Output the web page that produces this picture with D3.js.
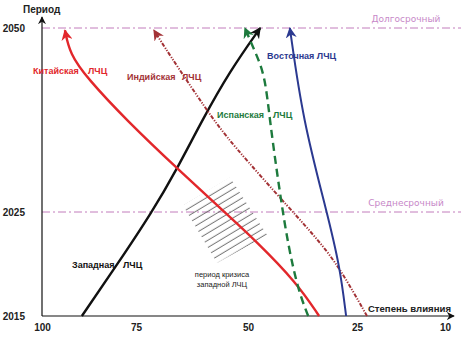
<!DOCTYPE html>
<html>
<head>
<meta charset="utf-8">
<script src="https://cdn.jsdelivr.net/npm/d3@7"></script>
<style>
  body { margin: 0; background: #fff; }
  svg { display: block; font-family: 'Liberation Sans', Arial, sans-serif; }
</style>
</head>
<body>
<div id="chart"></div>
<script>
// influence degree (x) vs period (y)
const chinaLine = [
  {value: 33.7, year: 2015},
  {value: 38.8, year: 2018.2},
  {value: 48.4, year: 2022.3},
  {value: 54.0, year: 2024.5},
  {value: 65.8, year: 2030.9},
  {value: 77.4, year: 2037.4},
  {value: 88.0, year: 2043.2},
  {value: 92.6, year: 2046.5},
  {value: 93.9, year: 2049.7}
];
const indiaLine = [
  {value: 23.3, year: 2015},
  {value: 28.9, year: 2019.6},
  {value: 33.9, year: 2022.3},
  {value: 39.7, year: 2025},
  {value: 54.0, year: 2034.5},
  {value: 59.2, year: 2038.8},
  {value: 68.1, year: 2046.9},
  {value: 71.0, year: 2049.7}
];
const westLine = [
  {value: 89.4, year: 2015},
  {value: 80.1, year: 2019.9},
  {value: 71.4, year: 2025},
  {value: 65.8, year: 2030.9},
  {value: 60.3, year: 2037.4},
  {value: 54.0, year: 2044.2},
  {value: 47.2, year: 2050}
];
const spainLine = [
  {value: 36.2, year: 2015},
  {value: 38.5, year: 2017.5},
  {value: 40.8, year: 2021.8},
  {value: 42.7, year: 2027.6},
  {value: 45.0, year: 2037.4},
  {value: 46.1, year: 2043.6},
  {value: 48.4, year: 2046.8},
  {value: 50.7, year: 2050}
];
const eastLine = [
  {value: 27.5, year: 2015},
  {value: 28.9, year: 2019.7},
  {value: 31.9, year: 2025},
  {value: 37.4, year: 2037.4},
  {value: 40.4, year: 2050}
];
// crisis of the western civilization (hatched zone corners)
const crisisZone = [
  {value: 64.5, year: 2025.9},
  {value: 54.0, year: 2029.7},
  {value: 45.6, year: 2022.8},
  {value: 56.9, year: 2020.1}
];

const xTicks = [100, 75, 50, 25, 10];
const yTicks = [2015, 2025, 2050];
const horizons = [
  {year: 2050, label: 'Долгосрочный'},
  {year: 2025, label: 'Среднесрочный'}
];

const width = 461;
const height = 342;

const svg = d3.select('#chart').append('svg')
  .attr('width', width)
  .attr('height', height);

/* ----------scales (hand drawn axis, not even)------------*/
const xScale = d3.scaleLinear().domain([100, 75, 50, 25, 10]).range([42, 136, 248, 357, 445]);
const yScale = d3.scaleLinear().domain([2015, 2025, 2050]).range([316, 212, 28]);

const line = d3.line()
  .x(d => xScale(d.value))
  .y(d => yScale(d.year))
  .curve(d3.curveBasis);

/* ----------markers------------*/
const defs = svg.append('defs');
function arrow(id, color, size) {
  defs.append('marker')
    .attr('id', id)
    .attr('viewBox', '0 -5 10 10')
    .attr('refX', 9)
    .attr('refY', 0)
    .attr('markerUnits', 'userSpaceOnUse')
    .attr('markerWidth', size)
    .attr('markerHeight', size)
    .attr('orient', 'auto')
    .append('path')
    .attr('d', 'M0,-5L10,0L0,5L3,0Z')
    .style('fill', color);
}
arrow('arr-axis', '#111', 8);
arrow('arr-china', '#e2272b', 11);
arrow('arr-india', '#a33236', 11);
arrow('arr-west', '#111', 11);
arrow('arr-spain', '#1d7a3d', 11);
arrow('arr-east', '#2b3990', 11);

defs.append('pattern')
  .attr('id', 'hatch')
  .attr('patternUnits', 'userSpaceOnUse')
  .attr('width', 20)
  .attr('height', 6.2)
  .attr('patternTransform', 'rotate(-31)')
  .append('line')
  .attr('x1', 0).attr('y1', 3)
  .attr('x2', 20).attr('y2', 3)
  .style('stroke', '#4a4a4a')
  .style('stroke-width', 0.8);

/* ----------horizon lines------------*/
const hz = svg.append('g').attr('class', 'horizons');
hz.selectAll('line')
  .data(horizons)
  .enter()
  .append('line')
  .attr('x1', xScale(100))
  .attr('x2', width)
  .attr('y1', d => yScale(d.year))
  .attr('y2', d => yScale(d.year))
  .style('stroke', '#c27cbc')
  .style('stroke-width', 1)
  .style('stroke-dasharray', '8,3,2,3');
hz.selectAll('text')
  .data(horizons)
  .enter()
  .append('text')
  .attr('x', 406)
  .attr('y', d => yScale(d.year) - 6)
  .style('text-anchor', 'middle')
  .style('font-family', "'DejaVu Sans', sans-serif")
  .style('font-size', '9px')
  .style('fill', '#c788c8')
  .text(d => d.label);

/* ----------crisis zone------------*/
svg.append('path')
  .datum(crisisZone)
  .attr('d', d3.line().x(d => xScale(d.value)).y(d => yScale(d.year)).curve(d3.curveLinearClosed))
  .style('fill', 'url(#hatch)')
  .style('stroke', 'none');

/* ----------axes------------*/
const axisX = svg.append('g')
  .attr('class', 'axis axis--x')
  .attr('transform', 'translate(0,' + yScale(2015) + ')')
  .call(d3.axisBottom(xScale).tickValues(xTicks).tickSize(0).tickPadding(8));
axisX.select('.domain').remove();

const axisY = svg.append('g')
  .attr('class', 'axis axis--y')
  .attr('transform', 'translate(' + xScale(100) + ',0)')
  .call(d3.axisLeft(yScale).tickValues(yTicks).tickSize(0).tickPadding(17).tickFormat(d3.format('d')));
axisY.select('.domain').remove();

svg.selectAll('.axis text')
  .style('font-family', "'Liberation Sans', Arial, sans-serif")
  .style('font-size', '10px')
  .style('font-weight', 'bold')
  .style('fill', '#222');

svg.append('line')
  .attr('x1', xScale(100)).attr('y1', yScale(2015))
  .attr('x2', 454).attr('y2', yScale(2015))
  .style('stroke', '#111')
  .style('stroke-width', 1.2)
  .attr('marker-end', 'url(#arr-axis)');
svg.append('line')
  .attr('x1', xScale(100)).attr('y1', yScale(2015))
  .attr('x2', xScale(100)).attr('y2', 17)
  .style('stroke', '#111')
  .style('stroke-width', 1.2)
  .attr('marker-end', 'url(#arr-axis)');

svg.append('text')
  .attr('x', 23).attr('y', 13)
  .style('font-size', '10px')
  .style('font-weight', 'bold')
  .style('fill', '#222')
  .text('Период');
svg.append('text')
  .attr('x', 451).attr('y', 312)
  .style('text-anchor', 'end')
  .style('font-size', '9.6px')
  .style('font-weight', 'bold')
  .style('fill', '#222')
  .text('Степень влияния');

/* ----------civilization lines------------*/
const series = [
  {data: westLine, color: '#111', width: 2.4, dash: null, marker: 'arr-west'},
  {data: chinaLine, color: '#e2272b', width: 2.4, dash: null, marker: 'arr-china'},
  {data: indiaLine, color: '#a33236', width: 2, dash: '4,1.5,1.2,1.5,1.2,1.5', marker: 'arr-india'},
  {data: spainLine, color: '#1d7a3d', width: 2.4, dash: '8,5', marker: 'arr-spain'},
  {data: eastLine, color: '#2b3990', width: 2, dash: null, marker: 'arr-east'}
];

const lineG = svg.append('g').attr('class', 'line-g');
series.forEach(s => {
  lineG.append('path')
    .datum(s.data)
    .attr('d', line)
    .style('fill', 'none')
    .style('stroke', s.color)
    .style('stroke-width', s.width)
    .style('stroke-dasharray', s.dash)
    .attr('marker-end', 'url(#' + s.marker + ')');
});

/* ----------labels------------*/
function label(parts, y, color) {
  const t = svg.append('text')
    .attr('y', y)
    .style('font-size', '9px')
    .style('font-weight', 'bold')
    .style('fill', color);
  parts.forEach(p => t.append('tspan').attr('x', p[0]).text(p[1]));
}
label([[33, 'Китайская'], [88, 'ЛЧЦ']], 74, '#e2272b');
label([[127, 'Индийская'], [182, 'ЛЧЦ']], 80, '#a33236');
label([[217, 'Испанская'], [273, 'ЛЧЦ']], 118, '#1d7a3d');
label([[267, 'Восточная ЛЧЦ']], 59, '#2b3990');
label([[72, 'Западная'], [123, 'ЛЧЦ']], 268, '#111');

svg.append('text')
  .attr('x', 222).attr('y', 277)
  .style('text-anchor', 'middle')
  .style('font-size', '7.5px')
  .style('fill', '#222')
  .text('период кризиса');
svg.append('text')
  .attr('x', 222).attr('y', 287)
  .style('text-anchor', 'middle')
  .style('font-size', '7.5px')
  .style('fill', '#222')
  .text('западной ЛЧЦ');
</script>
</body>
</html>
